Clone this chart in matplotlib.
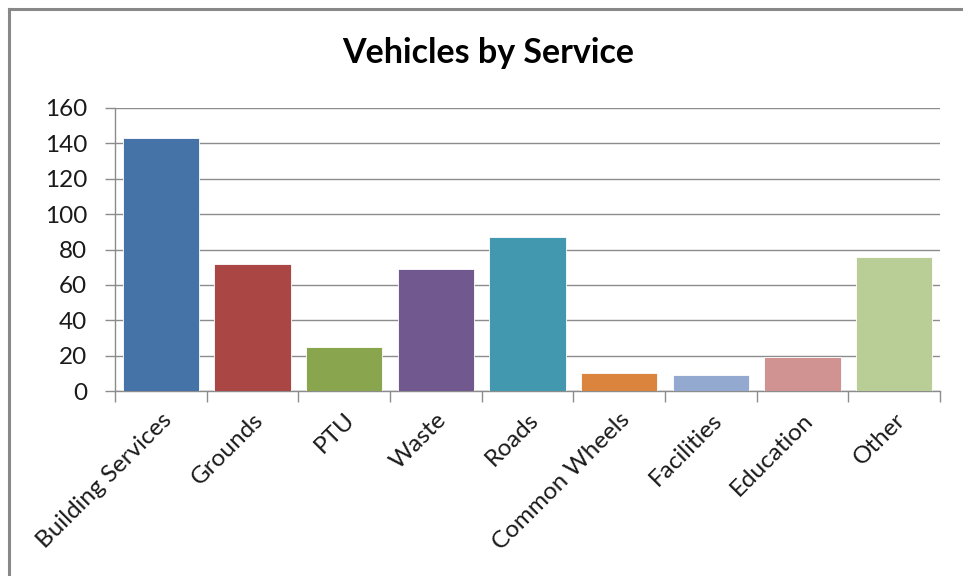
import matplotlib
matplotlib.use("Agg")
import matplotlib.pyplot as plt
from matplotlib.lines import Line2D
import numpy as np

categories = ["Building Services", "Grounds", "PTU", "Waste", "Roads",
              "Common Wheels", "Facilities", "Education", "Other"]
values = [143, 72, 25, 69, 87, 10, 9, 19, 76]
colors = ["#4572A7", "#AA4643", "#89A54E", "#71588F", "#4198AF",
          "#DB843D", "#93A9CF", "#D19392", "#B9CD96"]
yticks = [0, 20, 40, 60, 80, 100, 120, 140, 160]
title = "Vehicles by Service"

plt.rcParams['font.family'] = ['Lato', 'DejaVu Sans']

fig = plt.figure(figsize=(9.63, 5.76), dpi=100)
ax = fig.add_axes([115/963, 1-391/576, (940-115)/963, (391-108)/576])

x = np.arange(len(categories))
ax.bar(x, values, width=0.83, color=colors, edgecolor="white", linewidth=0.6, zorder=3)

grid_c = "#8c8c8c"
ax.set_ylim(0, 160)
ax.set_xlim(-0.5, len(categories) - 0.5)
ax.set_yticks(yticks)
ax.set_yticklabels([str(v) for v in yticks], fontsize=17.5, color="#1a1a1a")
ax.yaxis.grid(True, color=grid_c, linewidth=1.0, zorder=0)
ax.tick_params(axis='y', length=7, width=1, color=grid_c, pad=13)

ax.set_xticks(x)
ax.set_xticklabels(categories, rotation=45, ha='right', va='top',
                   rotation_mode='anchor', fontsize=17.5, color="#1a1a1a")
ax.tick_params(axis='x', which='major', length=0, pad=13)
ax.set_xticks(np.arange(-0.5, len(categories), 1.0), minor=True)
ax.tick_params(axis='x', which='minor', length=8, width=1, color=grid_c)

for s in ["top", "right"]:
    ax.spines[s].set_visible(False)
for s in ["left", "bottom"]:
    ax.spines[s].set_color(grid_c)
    ax.spines[s].set_linewidth(1.0)

fig.text(488/963, 1-53/576, title, ha='center', va='center',
         fontsize=24.5, fontweight='bold', color='black')

# chart border (top and left edges visible)
fig.add_artist(Line2D([9/963, 1.0], [1-9/576, 1-9/576], color="#888888", linewidth=2.2,
                      transform=fig.transFigure))
fig.add_artist(Line2D([9/963, 9/963], [0, 1-9/576], color="#888888", linewidth=2.2,
                      transform=fig.transFigure))

fig.savefig("out.png", dpi=100, facecolor="white")
